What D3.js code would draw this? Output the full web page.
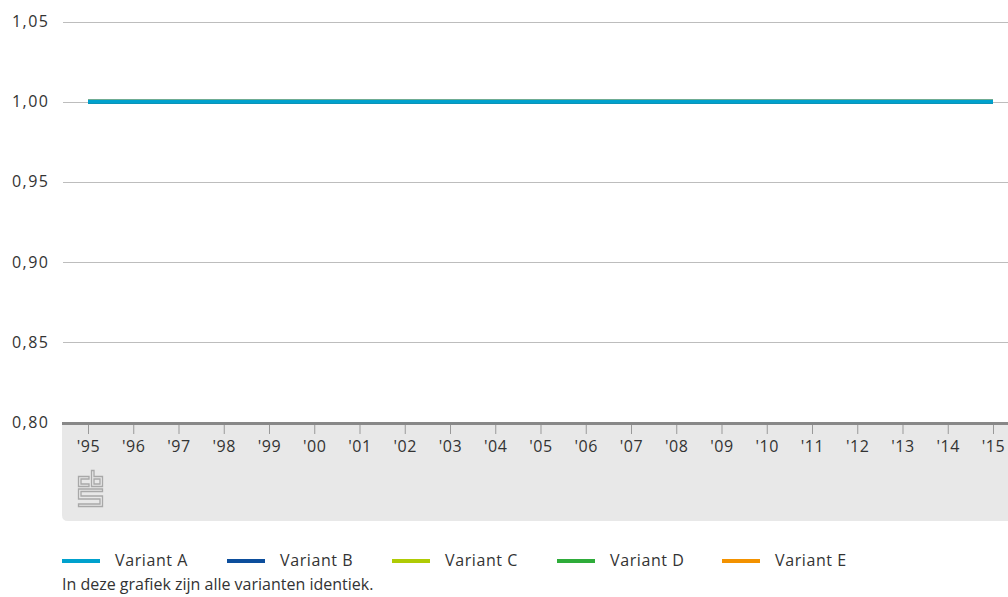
<!DOCTYPE html>
<html><head><meta charset="utf-8">
<script src="https://cdn.jsdelivr.net/npm/d3@7"></script>
<style>
body{margin:0;background:#fff;}
text{font-family:"Open Sans","Noto Sans",sans-serif;fill:#333;}
</style></head><body>
<svg id="c" width="1008" height="597"></svg>
<script>
const years = ["'95","'96","'97","'98","'99","'00","'01","'02","'03","'04","'05","'06","'07","'08","'09","'10","'11","'12","'13","'14","'15"];
const seriesNames = ["Variant A","Variant B","Variant C","Variant D","Variant E"];
const seriesColors = ["#00a1cd","#0c4e9c","#afcb05","#2fac3a","#f39200"];
const variantA = [1,1,1,1,1,1,1,1,1,1,1,1,1,1,1,1,1,1,1,1,1];
const variantB = [1,1,1,1,1,1,1,1,1,1,1,1,1,1,1,1,1,1,1,1,1];
const variantC = [1,1,1,1,1,1,1,1,1,1,1,1,1,1,1,1,1,1,1,1,1];
const variantD = [1,1,1,1,1,1,1,1,1,1,1,1,1,1,1,1,1,1,1,1,1];
const variantE = [1,1,1,1,1,1,1,1,1,1,1,1,1,1,1,1,1,1,1,1,1];
const yTicks = [0.80,0.85,0.90,0.95,1.00,1.05];
const note = "In deze grafiek zijn alle varianten identiek.";

const FS = 16;
const seriesData = [variantA,variantB,variantC,variantD,variantE];
const svg = d3.select("#c");
const x = d3.scalePoint().domain(years).range([88,993]);
const y = d3.scaleLinear().domain([0.80,1.05]).range([422.5,21.5]);
const fmt = v => d3.format(".2f")(v).replace(".",",");

// grey panel with rounded bottom-left corner
svg.append("path")
  .attr("d","M62,423 H1008 V521 H68 Q62,521 62,515 Z")
  .attr("fill","#e8e8e8");

// gridlines
svg.append("g").selectAll("line").data(yTicks.filter(v=>v>0.8)).join("line")
  .attr("x1",63).attr("x2",1008)
  .attr("y1",d=>Math.round(y(d))+0.5).attr("y2",d=>Math.round(y(d))+0.5)
  .attr("stroke","#bdbdbd").attr("stroke-width",1);

// y labels
svg.append("g").selectAll("text").data(yTicks).join("text")
  .attr("x",49.5).attr("y",d=>y(d)+5.5)
  .attr("text-anchor","end").attr("font-size",FS).attr("letter-spacing",1.5)
  .text(fmt);

// x axis
const xAxis = svg.append("g").attr("transform","translate(0,423)")
  .call(d3.axisBottom(x).tickSize(11).tickPadding(7));
xAxis.select(".domain").remove();
xAxis.selectAll(".tick line").attr("stroke","#999").attr("y1",2);
xAxis.selectAll(".tick text").attr("font-size",FS).attr("fill","#333")
  .attr("letter-spacing",0.5)
  .attr("font-family","'Open Sans','Noto Sans',sans-serif");
svg.append("line").attr("x1",62).attr("x2",1008).attr("y1",423.5).attr("y2",423.5)
  .attr("stroke","#888").attr("stroke-width",3);

// CBS logo
const logo = svg.append("g").attr("transform","translate(78,470)")
  .attr("fill","none").attr("stroke","#a8a8a8").attr("stroke-width",1.3);
logo.append("path").attr("d","M0.5,6.5 H11 V9 H3 V14 H11 V16.5 H0.5 Z");
logo.append("path").attr("d","M13.5,0.5 H16 V6.5 H24.5 V16.5 H13.5 Z M16,9 V14 H22 V9 Z");
logo.append("path").attr("d","M0.5,19 H24.5 V21.5 H3 V26 H24.5 V36.5 H0.5 V34 H22 V29 H0.5 Z");

// lines (draw E first, A last on top)
const line = d3.line().x((d,i)=>x(years[i])).y(d=>y(d));
svg.append("g").selectAll("path").data(seriesData.map((d,i)=>({d,i})).reverse()).join("path")
  .attr("d",o=>line(o.d)).attr("fill","none")
  .attr("stroke",o=>seriesColors[o.i]).attr("stroke-width",4);

// legend
const lg = svg.append("g").selectAll("g").data(seriesNames).join("g")
  .attr("transform",(d,i)=>`translate(${62+i*165},0)`);
lg.append("line").attr("x1",0).attr("x2",38).attr("y1",561).attr("y2",561)
  .attr("stroke",(d,i)=>seriesColors[i]).attr("stroke-width",4);
lg.append("text").attr("x",53).attr("y",566).attr("font-size",FS).attr("letter-spacing",0.6).text(d=>d);

svg.append("text").attr("x",62).attr("y",590).attr("font-size",FS).text(note);
</script>
</body></html>
